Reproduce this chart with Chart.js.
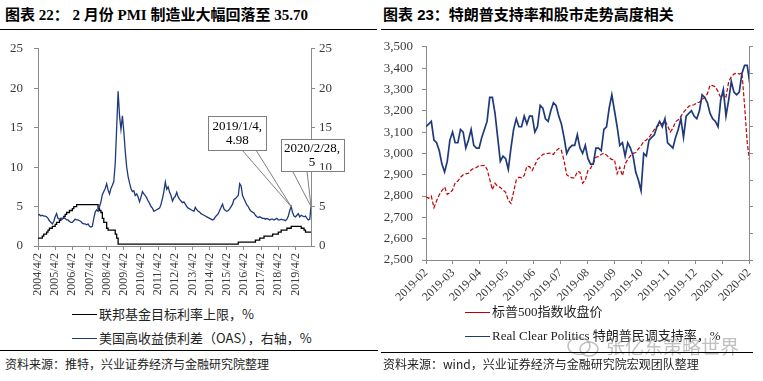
<!DOCTYPE html>
<html><head><meta charset="utf-8">
<script src="https://cdn.jsdelivr.net/npm/chart.js@4.4.1/dist/chart.umd.min.js"></script>
<style>
html,body{margin:0;padding:0;background:#fff;}
body{width:763px;height:381px;position:relative;overflow:hidden;font-family:"Noto Sans CJK SC",sans-serif;}
.abs{position:absolute;}
.title{font-weight:bold;font-size:15px;color:#000;white-space:nowrap;line-height:18px;}
.rule{height:1.5px;background:#000;}
.src{font-size:12px;color:#222;white-space:nowrap;line-height:16px;}
.leg{font-size:13px;color:#222;white-space:nowrap;display:flex;align-items:center;height:18px;line-height:18px;}
.leg i{display:inline-block;width:25px;height:1px;margin-right:2px;}
.wm{font-size:19px;color:rgba(140,140,140,0.55);white-space:nowrap;line-height:22px;}
</style></head><body>

<div class="abs title" style="left:5px;top:6px;font-family:'Liberation Serif','Noto Sans CJK SC',serif;">图表 22： 2 月份 PMI 制造业大幅回落至 35.70</div>
<div class="abs title" style="left:383px;top:6px;font-family:'Liberation Sans','Noto Sans CJK SC',sans-serif;">图表 23：特朗普支持率和股市走势高度相关</div>
<div class="abs rule" style="left:0;top:28.5px;width:377px;"></div>
<div class="abs rule" style="left:381px;top:28.5px;width:373px;"></div>

<canvas id="c1" class="abs" width="380" height="272" style="left:0;top:30px;"></canvas>
<canvas id="c2" class="abs" width="383" height="290" style="left:380px;top:30px;"></canvas>

<div id="leg1" class="abs" style="left:72px;top:305px;font-family:'Noto Sans CJK SC',sans-serif;"></div>
<div id="leg2" class="abs" style="left:465px;top:303px;font-family:'Liberation Serif','Noto Sans CJK SC',serif;"></div>

<svg class="abs" style="left:566px;top:336px;" width="36" height="22" viewBox="0 0 36 22">
  <ellipse cx="13" cy="10" rx="11" ry="8.5" fill="none" stroke="rgba(140,140,140,0.55)" stroke-width="1.5"/>
  <ellipse cx="23" cy="13" rx="9" ry="7" fill="none" stroke="rgba(140,140,140,0.55)" stroke-width="1.5"/>
</svg>
<div class="abs wm" style="left:606px;top:335px;">张亿东策略世界</div>

<div class="abs rule" style="left:0;top:349.5px;width:378px;height:1.2px;"></div>
<div class="abs rule" style="left:381px;top:352px;width:372px;height:1.2px;"></div>
<div class="abs src" style="left:5px;top:356px;">资料来源：推特，兴业证券经济与金融研究院整理</div>
<div class="abs src" style="left:383px;top:356px;">资料来源：wind，兴业证券经济与金融研究院宏观团队整理</div>

<script>
// ---------------- Left chart data (monthly, from 2004/4 to 2020/2) ----------------
const leftStart = '2004/4/2';
const leftTickLabels = ['2004/4/2','2005/4/2','2006/4/2','2007/4/2','2008/4/2','2009/4/2','2010/4/2','2011/4/2',
  '2012/4/2','2013/4/2','2014/4/2','2015/4/2','2016/4/2','2017/4/2','2018/4/2','2019/4/2'];
const leftSeriesNames = ['联邦基金目标利率上限，%', '美国高收益债利差（OAS），右轴，%'];
const fedFundsUpper = [
  1,1,1,1.25,1.5,1.5,1.75,2,2.25,
  2.25,2.5,2.5,2.75,3,3,3.25,3.5,3.5,3.75,4,4.25,
  4.25,4.5,4.5,4.75,5,5,5.25,5.25,5.25,5.25,5.25,5.25,
  5.25,5.25,5.25,5.25,5.25,5.25,5.25,5.25,5.25,4.75,4.5,4.25,
  3.5,3,3,2.25,2,2,2,2,2,1.5,1,0.25,
  0.25,0.25,0.25,0.25,0.25,0.25,0.25,0.25,0.25,0.25,0.25,0.25,
  0.25,0.25,0.25,0.25,0.25,0.25,0.25,0.25,0.25,0.25,0.25,0.25,
  0.25,0.25,0.25,0.25,0.25,0.25,0.25,0.25,0.25,0.25,0.25,0.25,
  0.25,0.25,0.25,0.25,0.25,0.25,0.25,0.25,0.25,0.25,0.25,0.25,
  0.25,0.25,0.25,0.25,0.25,0.25,0.25,0.25,0.25,0.25,0.25,0.25,
  0.25,0.25,0.25,0.25,0.25,0.25,0.25,0.25,0.25,0.25,0.25,0.25,
  0.25,0.25,0.25,0.25,0.25,0.25,0.25,0.25,0.25,0.25,0.25,0.5,
  0.5,0.5,0.5,0.5,0.5,0.5,0.5,0.5,0.5,0.5,0.5,0.75,
  0.75,0.75,1,1,1,1.25,1.25,1.25,1.25,1.25,1.25,1.5,
  1.5,1.5,1.5,1.75,1.75,2,2,2,2,2.25,2.25,2.25,
  2.5,2.5,2.5,2.5,2.5,2.5,2.5,2.25,2.25,2,1.75,1.75,
  1.75,1.75
];
const hyOAS = [
  3.9,4.0,3.8,3.9,3.8,3.8,3.7,3.5,3.2,
  3.0,2.8,3.1,3.7,4.1,3.5,3.4,3.5,3.4,3.6,3.5,3.3,
  3.3,3.1,3.0,3.0,3.2,3.4,3.3,3.3,3.2,3.1,2.9,2.8,
  2.8,2.7,2.8,2.5,2.4,2.5,3.5,4.3,4.6,4.4,5.0,5.6,
  6.5,6.9,7.3,7.9,7.1,6.6,7.3,7.7,8.2,10.5,15.0,19.6,
  16.5,14.8,16.5,14.5,12.0,10.0,8.8,8.0,7.3,6.9,7.0,6.4,
  6.6,6.2,5.6,6.2,6.9,6.6,6.4,6.1,5.7,5.4,5.0,4.8,
  4.4,4.5,4.6,4.7,4.8,5.3,6.0,6.9,8.1,7.2,7.5,6.8,
  6.4,5.7,6.1,6.3,6.8,6.2,5.9,5.7,5.5,5.6,5.3,5.0,
  4.8,4.7,4.6,4.5,4.4,4.9,4.6,4.4,4.3,4.1,4.0,3.9,
  3.8,3.7,3.6,3.5,3.4,3.3,3.4,3.7,3.9,4.1,4.5,4.9,
  5.3,4.7,4.5,4.4,4.5,4.7,5.0,5.3,5.9,6.0,6.2,6.4,
  7.9,7.6,6.4,6.0,5.6,5.2,5.0,4.6,4.4,4.3,4.2,3.9,
  3.7,3.6,3.7,3.6,3.5,3.5,3.4,3.5,3.4,3.3,3.4,3.4,
  3.3,3.4,3.5,3.3,3.3,3.4,3.3,3.3,3.2,3.4,3.8,4.5,
  4.98,4.2,3.8,3.7,3.9,4.1,3.7,3.9,3.8,3.7,3.8,3.5,
  3.3,3.4
];
const leftLastDate = '2020/2/28';
const fedLast = 1.75;
const oasLast = 5.0;
const calloutDates = ['2019/1/4', '2020/2/28'];
const calloutValues = [4.98, 5];
const calloutTexts = [['2019/1/4,', '4.98'], ['2020/2/28,', '5']];

// ---------------- Right chart data (every 3 days, 2019-02-28 .. 2020-02-28) ----------------
const rightStart = '2019-02-28';
const rightTickLabels = ['2019-02','2019-03','2019-04','2019-05','2019-06','2019-07','2019-08',
  '2019-09','2019-10','2019-11','2019-12','2020-01','2020-02'];
const rightSeriesNames = ['标普500指数收盘价', 'Real Clear Politics 特朗普民调支持率，%'];
const spxClose = [
  2796,2790,2800,2745,2778,2806,2825,2842,2808,2815,2828,2862,2870,2888,2900,2904,2907,2922,2930,2934,
  2943,2942,2944,2926,2878,2830,2860,2845,2840,2828,2817,2780,2765,2820,2875,2888,2885,2897,2940,2938,
  2920,2945,2972,2982,2995,2999,3000,3002,2995,3012,3023,3014,2966,2900,2890,2885,2885,2915,2912,2860,
  2875,2920,2930,2955,2982,2985,2995,3001,2992,2980,2971,2970,2905,2935,2895,2950,2972,2988,3000,3004,
  3021,3036,3055,3063,3074,3093,3112,3127,3133,3140,3154,3130,3100,3118,3148,3158,3173,3193,3207,3221,
  3226,3228,3238,3240,3254,3262,3280,3320,3318,3312,3290,3262,3280,3265,3335,3360,3372,3377,3372,3378,
  3225,3050,2954
];
const rcpApproval = [
  43.0,43.1,43.2,42.5,42.4,42.1,41.6,41.3,41.7,42.5,42.8,42.4,42.4,42.9,42.8,42.2,42.5,42.9,42.3,42.2,
  42.2,42.6,42.9,43.2,44.1,44.1,43.5,42.6,41.7,41.9,41.8,41.4,42.2,42.9,43.3,43.0,43.0,43.4,43.1,43.4,
  43.4,42.8,43.0,43.8,43.7,43.3,43.2,43.6,43.9,43.8,43.4,43.1,42.6,42.0,42.2,42.3,42.3,42.7,42.2,42.0,
  42.3,41.8,41.6,41.6,42.2,42.2,42.1,42.9,43.0,43.7,44.2,43.6,43.0,42.3,42.4,41.9,42.4,42.2,41.9,41.3,
  41.0,40.6,42.0,41.9,42.5,42.6,42.7,43.0,43.2,43.0,43.3,42.4,42.3,42.2,42.6,42.9,43.3,42.6,43.4,43.5,
  43.6,43.4,43.3,43.6,44.2,44.1,43.9,43.5,43.3,43.2,43.0,44.0,44.4,43.4,44.0,44.7,44.3,44.2,44.3,45.0,
  45.3,45.3,44.6
];
const rightSampleStepDays = 3;

// ---------------- helpers ----------------
function monthIdx(s){
  const p = s.split('/').map(Number);
  const b = leftStart.split('/').map(Number);
  return (p[0]-b[0])*12 + (p[1]-b[1]) + (p[2]-b[2])/30.44;
}
function dayIdx(s){
  return Math.round((Date.parse(s) - Date.parse(rightStart)) / 86400000);
}
function fmtThousands(v){
  const s = String(Math.round(v));
  return s.replace(/\B(?=(\d{3})+(?!\d))/g, ',');
}

const NAVY = '#1f3a7a', RED = '#c00000', AXIS = '#8a8a8a', TXT = '#3a3a3a';
Chart.defaults.font.family = '"Liberation Serif", "Times New Roman", serif';
Chart.defaults.color = TXT;
Chart.defaults.animation = false;

const gridOpt = {drawOnChartArea:false, tickLength:4, color:AXIS, lineWidth:1};
const borderOpt = {color:AXIS, width:1};

// ---------------- Left chart ----------------
const leftEnd = monthIdx(leftLastDate);
const fedPts = fedFundsUpper.map((v,i)=>({x:i, y:v})).concat([{x:leftEnd, y:fedLast}]);
const oasPts = hyOAS.map((v,i)=>({x:i, y:v})).concat([{x:leftEnd, y:oasLast}]);

const calloutLayout = [
  {dx:-54, dy:-74, w:58, h:34, wedge:[33.5, 47.5]},
  {dx:1, dy:-51.5, w:63, h:32, wedge:[12, 26.5]}
];
const calloutPlugin = {
  id:'callouts',
  afterDatasetsDraw(chart){
    const ctx = chart.ctx, xs = chart.scales.x, ys = chart.scales.y1;
    calloutDates.forEach((d, k) => {
      const px = xs.getPixelForValue(monthIdx(d));
      const py = ys.getPixelForValue(calloutValues[k]);
      const L = calloutLayout[k];
      const bx = px + L.dx - L.w/2, by = py + L.dy - L.h/2;
      ctx.save();
      ctx.strokeStyle = '#7f7f7f'; ctx.lineWidth = 1;
      ctx.beginPath();
      ctx.moveTo(bx + L.wedge[0], by + L.h); ctx.lineTo(px, py);
      ctx.moveTo(bx + L.wedge[1], by + L.h); ctx.lineTo(px, py);
      ctx.stroke();
      ctx.fillStyle = '#fff';
      ctx.fillRect(bx, by, L.w, L.h);
      ctx.strokeRect(Math.round(bx)+0.5, Math.round(by)+0.5, Math.round(L.w), Math.round(L.h));
      ctx.save();
      ctx.beginPath(); ctx.rect(bx+1, by+1, L.w-2, L.h-2); ctx.clip();
      ys.drawLabels(chart.chartArea);
      ctx.restore();
      ctx.fillStyle = '#000';
      ctx.font = '13px "Liberation Serif", serif';
      ctx.textAlign = 'center'; ctx.textBaseline = 'middle';
      const lines = calloutTexts[k];
      const lh = 13.6, cy = by + L.h/2 + 0.8;
      lines.forEach((t, j) => ctx.fillText(t, bx + L.w/2, cy + (j - (lines.length-1)/2)*lh));
      ctx.restore();
    });
  }
};

new Chart(document.getElementById('c1'), {
  type:'line',
  data:{datasets:[
    {label:leftSeriesNames[0], data:fedPts, borderColor:'#000', borderWidth:1.3, stepped:true, yAxisID:'y', order:1},
    {label:leftSeriesNames[1], data:oasPts, borderColor:NAVY, borderWidth:1.3, yAxisID:'y1', order:0}
  ]},
  options:{
    responsive:false, animation:false, events:[],
    layout:{padding:{top:13, left:0, right:0, bottom:0}},
    plugins:{legend:{display:false}, tooltip:{enabled:false}},
    elements:{point:{radius:0}, line:{tension:0}},
    scales:{
      x:{type:'linear', min:0, max:leftEnd,
        afterBuildTicks(s){ s.ticks = leftTickLabels.map(l => ({value: monthIdx(l)})); },
        ticks:{autoSkip:false, minRotation:90, maxRotation:90, padding:3, font:{size:12},
          callback:(v,i)=>leftTickLabels[i]},
        grid:gridOpt, border:borderOpt,
        afterFit(s){ s.height = 56; }},
      y:{position:'left', min:0, max:25, ticks:{stepSize:5, padding:11, font:{size:13}},
        grid:gridOpt, border:borderOpt, afterFit(s){ s.width = 38; }},
      y1:{position:'right', min:0, max:25, ticks:{stepSize:5, padding:4, font:{size:13}},
        grid:gridOpt, border:borderOpt, afterFit(s){ s.width = 69; }}
    }
  },
  plugins:[calloutPlugin]
});

// ---------------- Right chart ----------------
const rightEnd = dayIdx('2020-02-28');
const spxPts = spxClose.map((v,i)=>({x:i*rightSampleStepDays, y:v}));
const rcpPts = rcpApproval.map((v,i)=>({x:i*rightSampleStepDays, y:v}));

new Chart(document.getElementById('c2'), {
  type:'line',
  data:{datasets:[
    {label:rightSeriesNames[0], data:spxPts, borderColor:RED, borderWidth:1.2, borderDash:[4,2], yAxisID:'y', order:1},
    {label:rightSeriesNames[1], data:rcpPts, borderColor:NAVY, borderWidth:1.7, yAxisID:'y1', order:0}
  ]},
  options:{
    responsive:false, animation:false, events:[],
    layout:{padding:{top:13, left:0, right:0, bottom:0}},
    plugins:{legend:{display:false}, tooltip:{enabled:false}},
    elements:{point:{radius:0}, line:{tension:0}},
    scales:{
      x:{type:'linear', min:0, max:rightEnd,
        afterBuildTicks(s){ const n = rightTickLabels.length - 1; s.ticks = rightTickLabels.map((_,i)=>({value: i*rightEnd/n})); },
        ticks:{autoSkip:false, minRotation:45, maxRotation:45, padding:2, font:{size:12},
          callback:(v,i)=>rightTickLabels[i]},
        grid:gridOpt, border:borderOpt,
        afterFit(s){ s.height = 60; }},
      y:{position:'left', min:2500, max:3500,
        ticks:{stepSize:100, padding:9, font:{size:13}, callback:v=>fmtThousands(v)},
        grid:gridOpt, border:borderOpt, afterFit(s){ s.width = 46; }},
      y1:{position:'right', min:38, max:46,
        ticks:{stepSize:1, padding:0, font:{size:13}, callback:()=>''},
        grid:gridOpt, border:borderOpt, afterFit(s){ s.width = 14; }}
    }
  }
});

// ---------------- HTML legends built from series names ----------------
function buildLegend(id, names, colors, gap){
  const el = document.getElementById(id);
  names.forEach((n, i) => {
    const row = document.createElement('div');
    row.className = 'leg';
    row.style.marginBottom = (i < names.length-1 ? gap : 0) + 'px';
    const sw = document.createElement('i');
    sw.style.background = colors[i];
    row.appendChild(sw);
    row.appendChild(document.createTextNode(n));
    el.appendChild(row);
  });
}
buildLegend('leg1', leftSeriesNames, ['#000', NAVY], 6);
buildLegend('leg2', rightSeriesNames, [RED, NAVY], 6);
</script>
</body></html>
